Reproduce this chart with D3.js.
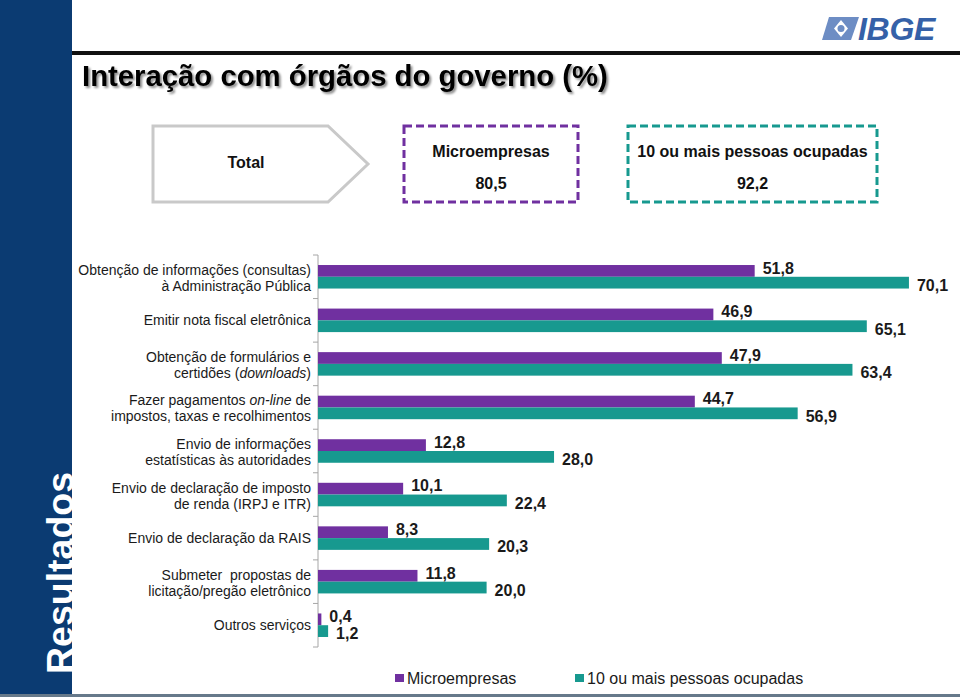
<!DOCTYPE html>
<html><head><meta charset="utf-8">
<script src="https://cdn.jsdelivr.net/npm/d3@7"></script>
<style>
html,body{margin:0;padding:0;background:#fff;}
svg{display:block;font-family:"Liberation Sans",Arial,Helvetica,sans-serif;}
text{white-space:pre;}
</style></head>
<body>
<svg id="c" width="960" height="697"></svg>
<script>
// ---- data ----
const categories = [
  ["Obtenção de informações (consultas)", "à Administração Pública"],
  ["Emitir nota fiscal eletrônica"],
  ["Obtenção de formulários e", "certidões (*downloads*)"],
  ["Fazer pagamentos *on-line* de", "impostos, taxas e recolhimentos"],
  ["Envio de informações", "estatísticas às autoridades"],
  ["Envio de declaração de imposto", "de renda (IRPJ e ITR)"],
  ["Envio de declaração da RAIS"],
  ["Submeter  propostas de", "licitação/pregão eletrônico"],
  ["Outros serviços"]
];
const seriesNames = ["Microempresas", "10 ou mais pessoas ocupadas"];
const microValues = [51.8, 46.9, 47.9, 44.7, 12.8, 10.1, 8.3, 11.8, 0.4];
const largeValues = [70.1, 65.1, 63.4, 56.9, 28.0, 22.4, 20.3, 20.0, 1.2];
const totalLabel = "Total";
const totalValues = [80.5, 92.2];
const title = "Interação com órgãos do governo (%)";
const sideLabel = "Resultados";
const colors = ["#7030a0", "#17998f"];

const fmt = v => d3.format(".1f")(v).replace(".", ",");
const svg = d3.select("#c");

// ---- frame ----
svg.append("rect").attr("x",0).attr("y",0).attr("width",72).attr("height",695).attr("fill","#0b3b72");
svg.append("rect").attr("x",72).attr("y",51).attr("width",888).attr("height",4).attr("fill","#111");
svg.append("rect").attr("x",0).attr("y",694).attr("width",960).attr("height",3).attr("fill","#66798a");

svg.append("text").text(sideLabel)
  .attr("transform","translate(73,674) rotate(-90)")
  .attr("fill","#fff").attr("font-weight","bold").attr("font-size",37.5);

// logo
const logo = svg.append("g");
logo.append("path")
  .attr("d","M829,17 L859,17 L851,40 L822,40 Z")
  .attr("fill","#6d8dc4");
logo.append("path").attr("d","M834,28.5 L841,20 L848,28.5 L841,37 Z").attr("fill","#fff");
logo.append("circle").attr("cx",841).attr("cy",28.5).attr("r",3.5).attr("fill","#6d8dc4");
logo.append("text").text("IBGE").attr("x",858).attr("y",40)
  .attr("font-size",32).attr("font-weight","bold").attr("font-style","italic")
  .attr("fill","#3561a8").attr("letter-spacing",-0.3);

// title with shadow
const defs = svg.append("defs");
const f = defs.append("filter").attr("id","shadow").attr("x","-5%").attr("y","-30%").attr("width","112%").attr("height","170%");
f.append("feDropShadow").attr("dx",2).attr("dy",2).attr("stdDeviation",1.3)
  .attr("flood-color","#000").attr("flood-opacity",0.45);
svg.append("text").text(title).attr("x",82).attr("y",86).attr("font-size",29.3)
  .attr("font-weight","bold").attr("fill","#000").attr("filter","url(#shadow)");

// ---- header boxes ----
svg.append("path").attr("d","M153,126 L328,126 L368,164 L328,202 L153,202 Z")
  .attr("fill","#fff").attr("stroke","#c9c9c9").attr("stroke-width",3);
svg.append("text").text(totalLabel).attr("x",246).attr("y",168).attr("text-anchor","middle")
  .attr("font-size",16).attr("font-weight","bold").attr("fill","#111");

const boxes = [{x:404,w:174},{x:628,w:249}];
boxes.forEach((b,i)=>{
  svg.append("rect").attr("x",b.x).attr("y",126).attr("width",b.w).attr("height",76)
    .attr("fill","none").attr("stroke",colors[i]).attr("stroke-width",3)
    .attr("stroke-dasharray","8,4");
  svg.append("text").text(seriesNames[i]).attr("x",b.x+b.w/2).attr("y",157).attr("text-anchor","middle")
    .attr("font-size",16).attr("font-weight","bold").attr("fill","#111");
  svg.append("text").text(fmt(totalValues[i])).attr("x",b.x+b.w/2).attr("y",189).attr("text-anchor","middle")
    .attr("font-size",16).attr("font-weight","bold").attr("fill","#111");
});

// ---- chart ----
const x = d3.scaleLinear().domain([0, 75]).range([318, 318 + 75*8.43]);
const y0 = d3.scaleBand().domain(d3.range(categories.length)).range([255, 647])
  .paddingInner(0.46).paddingOuter(0.23);
const y1 = d3.scaleBand().domain([0,1]).range([0, y0.bandwidth()]);
const step = y0.step();

const rows = categories.map((c,i)=>({i, lines:c, vals:[microValues[i], largeValues[i]]}));

// axis
svg.append("line").attr("x1",318).attr("x2",318).attr("y1",255).attr("y2",647).attr("stroke","#a6a6a6").attr("stroke-width",1);
d3.range(categories.length+1).forEach(k=>{
  const yy = 255 + k*step;
  svg.append("line").attr("x1",313).attr("x2",318).attr("y1",yy).attr("y2",yy).attr("stroke","#a6a6a6");
});

const g = svg.selectAll("g.row").data(rows).join("g").attr("class","row")
  .attr("transform", d=>`translate(0,${y0(d.i)})`);

g.selectAll("rect").data(d=>d.vals.map((v,s)=>({v,s}))).join("rect")
  .attr("x", x(0)).attr("y", d=>y1(d.s)).attr("width", d=>x(d.v)-x(0)).attr("height", y1.bandwidth())
  .attr("fill", d=>colors[d.s]);

const labelShift = [-3, 2.5];
g.selectAll("text.val").data(d=>d.vals.map((v,s)=>({v,s}))).join("text").attr("class","val")
  .attr("x", d=>x(d.v)+8).attr("y", d=>y1(d.s)+y1.bandwidth()/2+5.8+labelShift[d.s])
  .attr("font-size",16).attr("font-weight","bold").attr("fill","#1a1a1a")
  .text(d=>fmt(d.v));

// category labels
rows.forEach(r=>{
  const c = y0(r.i) + y0.bandwidth()/2;
  const base = r.lines.length === 1 ? [c+5] : [c-2, c+14];
  r.lines.forEach((ln, li)=>{
    const t = svg.append("text").attr("x",311).attr("y",base[li]).attr("text-anchor","end")
      .attr("font-size",14).attr("fill","#1a1a1a");
    ln.split("*").forEach((part, pi)=>{
      if (!part) return;
      t.append("tspan").text(part).attr("font-style", pi%2 ? "italic" : null);
    });
  });
});

// legend
const legX = [395, 575];
seriesNames.forEach((n,i)=>{
  svg.append("rect").attr("x",legX[i]).attr("y",674).attr("width",9).attr("height",8).attr("fill",colors[i]);
  svg.append("text").text(n).attr("x",legX[i]+12).attr("y",684).attr("font-size",16).attr("fill","#1a1a1a");
});
</script>
</body></html>
